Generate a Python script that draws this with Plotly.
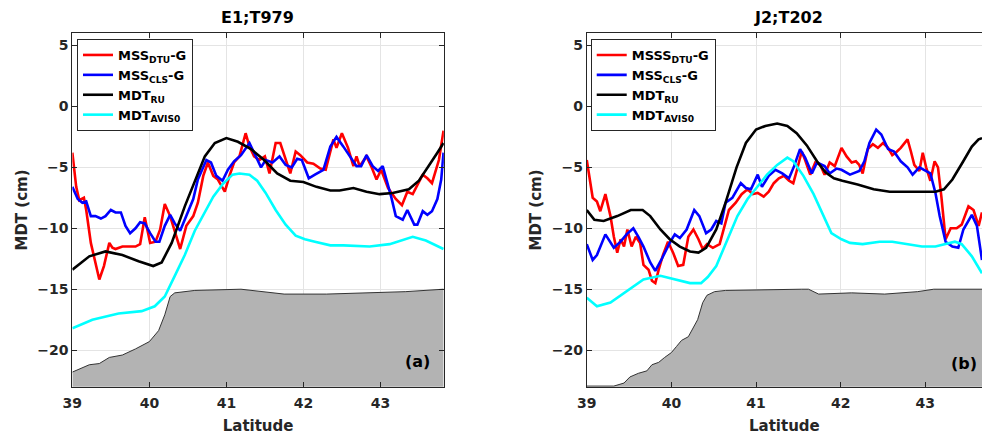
import plotly.graph_objects as go
from plotly.subplots import make_subplots

# ---------------- Panel (a): E1;T979 ----------------
lat_a_dtu = [39.00,39.05,39.09,39.15,39.18,39.24,39.35,39.41,39.48,39.52,39.56,39.65,39.73,39.82,39.88,39.94,40.01,40.08,40.14,40.20,40.27,40.33,40.40,40.48,40.57,40.63,40.70,40.76,40.83,40.89,40.98,41.04,41.10,41.17,41.25,41.30,41.36,41.43,41.50,41.56,41.60,41.64,41.70,41.77,41.83,41.90,41.96,42.05,42.13,42.22,42.29,42.39,42.43,42.50,42.58,42.65,42.69,42.73,42.82,42.88,42.95,43.01,43.10,43.20,43.28,43.35,43.42,43.55,43.61,43.67,43.76,43.82]
mdt_a_dtu = [-3.8,-6.6,-7.7,-7.5,-8.5,-11.2,-14.2,-13.1,-11.2,-11.6,-11.7,-11.5,-11.5,-11.5,-11.3,-9.1,-11.2,-11.1,-10.1,-8.0,-9.0,-10.2,-11.7,-9.8,-9.0,-7.9,-5.7,-4.6,-5.7,-6.0,-7.0,-5.7,-4.6,-4.1,-2.2,-3.3,-4.1,-4.4,-4.1,-5.5,-4.2,-3.0,-3.0,-4.4,-5.5,-3.7,-4.0,-4.6,-4.7,-5.1,-5.2,-2.7,-3.4,-2.2,-3.4,-4.9,-4.1,-4.9,-4.1,-4.9,-6.0,-5.2,-6.7,-7.6,-8.1,-7.0,-7.2,-5.6,-5.9,-6.3,-4.4,-2.0]

lat_a_cls = [39.00,39.07,39.13,39.18,39.24,39.30,39.37,39.43,39.50,39.56,39.63,39.69,39.75,39.82,39.88,39.94,40.01,40.08,40.13,40.20,40.27,40.33,40.40,40.48,40.57,40.63,40.74,40.80,40.87,40.95,41.02,41.10,41.19,41.30,41.36,41.45,41.51,41.60,41.69,41.77,41.85,41.92,41.98,42.07,42.15,42.26,42.35,42.43,42.52,42.60,42.69,42.75,42.82,42.90,42.97,43.03,43.14,43.20,43.29,43.35,43.44,43.48,43.55,43.61,43.67,43.74,43.79,43.82]
mdt_a_cls = [-6.6,-7.6,-7.9,-7.8,-9.0,-9.0,-9.2,-9.0,-8.5,-8.7,-8.7,-9.8,-10.4,-10.0,-9.5,-9.6,-10.4,-11.1,-11.1,-9.8,-8.9,-9.6,-10.2,-9.0,-7.6,-6.0,-4.4,-4.6,-5.7,-6.1,-5.2,-4.5,-4.0,-3.0,-3.8,-5.0,-4.4,-4.6,-4.1,-4.8,-5.0,-4.3,-4.4,-5.9,-5.6,-5.2,-3.3,-2.5,-3.3,-4.1,-4.9,-4.9,-4.0,-4.9,-5.3,-4.9,-7.4,-9.0,-9.3,-8.5,-9.7,-9.7,-8.6,-8.9,-8.6,-7.6,-6.0,-3.8]

lat_a_ru = [39.00,39.22,39.43,39.65,39.86,40.05,40.16,40.29,40.46,40.63,40.72,40.85,41.00,41.15,41.32,41.49,41.66,41.83,42.00,42.17,42.35,42.47,42.65,42.82,42.99,43.16,43.37,43.50,43.63,43.74,43.82]
mdt_a_ru = [-13.4,-12.3,-11.9,-12.2,-12.7,-13.1,-12.8,-11.2,-8.2,-5.5,-4.1,-3.0,-2.6,-2.9,-3.5,-4.4,-5.5,-6.1,-6.2,-6.6,-6.9,-6.9,-6.7,-7.0,-7.2,-7.1,-6.8,-6.1,-4.9,-3.8,-3.0]

lat_a_aviso = [39.00,39.26,39.60,39.90,40.07,40.20,40.33,40.46,40.59,40.70,40.83,40.95,41.08,41.17,41.30,41.40,41.51,41.64,41.77,41.90,42.02,42.15,42.35,42.52,42.86,43.12,43.33,43.42,43.59,43.82]
mdt_a_aviso = [-18.2,-17.5,-17.0,-16.8,-16.4,-15.6,-13.9,-12.2,-10.2,-8.9,-7.4,-6.4,-5.6,-5.5,-5.6,-6.1,-7.1,-8.5,-9.7,-10.6,-10.9,-11.1,-11.4,-11.4,-11.5,-11.3,-10.9,-10.7,-11.0,-11.7]

lat_a_bathy = [39.00,39.22,39.35,39.48,39.65,39.82,40.00,40.12,40.20,40.27,40.33,40.59,41.19,41.75,42.30,42.90,43.33,43.82]
bathy_a = [-21.8,-21.2,-21.1,-20.6,-20.4,-19.9,-19.3,-18.4,-17.1,-15.6,-15.3,-15.1,-15.0,-15.4,-15.4,-15.3,-15.2,-15.0]

# ---------------- Panel (b): J2;T202 ----------------
lat_b_dtu = [39.00,39.04,39.07,39.12,39.16,39.22,39.28,39.32,39.36,39.40,39.44,39.48,39.53,39.58,39.63,39.67,39.73,39.77,39.81,39.85,39.90,39.96,40.02,40.08,40.14,40.20,40.26,40.32,40.37,40.42,40.49,40.57,40.63,40.68,40.76,40.83,40.90,40.96,41.02,41.09,41.15,41.21,41.27,41.33,41.39,41.44,41.48,41.54,41.58,41.64,41.70,41.76,41.81,41.87,41.93,42.01,42.07,42.13,42.18,42.22,42.26,42.32,42.38,42.44,42.50,42.56,42.61,42.65,42.71,42.79,42.83,42.87,42.93,42.97,43.01,43.06,43.11,43.15,43.19,43.24,43.30,43.37,43.43,43.51,43.57,43.63,43.67]
mdt_b_dtu = [-4.4,-6.3,-7.5,-7.8,-8.6,-7.2,-9.0,-10.7,-12.0,-10.9,-11.5,-10.1,-11.5,-10.7,-11.2,-13.0,-13.4,-14.3,-14.5,-13.4,-12.2,-11.1,-12.0,-13.1,-13.0,-10.7,-10.1,-10.9,-11.7,-11.3,-11.6,-11.3,-9.8,-8.5,-7.9,-7.2,-6.8,-7.2,-7.1,-7.4,-7.0,-6.3,-5.9,-5.7,-6.1,-6.3,-5.3,-3.7,-4.4,-5.6,-4.6,-4.8,-5.6,-4.6,-4.9,-3.4,-4.1,-4.6,-4.5,-4.8,-5.5,-3.5,-3.1,-3.4,-3.0,-3.4,-4.0,-3.8,-3.4,-2.7,-3.7,-4.8,-5.3,-3.8,-5.0,-6.1,-4.5,-5.0,-7.4,-10.9,-10.0,-10.0,-9.7,-8.2,-8.5,-9.8,-8.7]

lat_b_cls = [39.00,39.07,39.12,39.22,39.32,39.40,39.47,39.55,39.61,39.67,39.75,39.81,39.88,39.98,40.04,40.10,40.18,40.27,40.33,40.41,40.47,40.53,40.59,40.64,40.72,40.82,40.88,40.94,41.02,41.07,41.15,41.23,41.31,41.39,41.45,41.52,41.58,41.66,41.72,41.81,41.87,41.95,42.01,42.11,42.22,42.28,42.34,42.42,42.48,42.56,42.63,42.71,42.79,42.85,42.93,43.00,43.06,43.12,43.17,43.24,43.32,43.39,43.45,43.55,43.61,43.67]
mdt_b_cls = [-11.3,-12.6,-12.2,-10.5,-11.6,-11.1,-10.5,-10.0,-10.7,-11.5,-12.8,-13.5,-12.6,-11.2,-10.5,-10.8,-10.1,-8.5,-9.0,-10.4,-10.1,-9.4,-9.6,-7.9,-7.5,-6.3,-6.7,-6.8,-5.6,-6.6,-5.7,-5.2,-5.5,-5.9,-4.9,-3.5,-4.2,-5.5,-4.6,-4.9,-5.5,-5.1,-5.2,-5.6,-5.3,-4.5,-3.0,-1.9,-2.3,-3.5,-3.7,-4.5,-5.0,-5.6,-5.0,-5.3,-5.5,-7.1,-9.0,-11.1,-11.5,-11.6,-10.1,-8.9,-9.8,-12.6]

lat_b_ru = [39.00,39.09,39.20,39.36,39.52,39.66,39.75,39.87,39.98,40.10,40.22,40.32,40.41,40.53,40.64,40.77,40.88,41.00,41.11,41.25,41.37,41.48,41.60,41.72,41.82,41.92,42.02,42.20,42.39,42.58,42.80,43.00,43.12,43.22,43.32,43.44,43.55,43.63,43.67]
mdt_b_ru = [-8.5,-9.3,-9.4,-9.0,-8.5,-8.5,-9.0,-10.1,-10.9,-11.5,-11.9,-12.0,-11.6,-10.1,-7.9,-5.0,-3.0,-1.9,-1.6,-1.4,-1.6,-2.2,-3.2,-4.5,-5.4,-5.9,-6.1,-6.4,-6.8,-7.0,-7.0,-7.0,-7.0,-6.8,-6.0,-4.6,-3.3,-2.7,-2.6]

lat_b_aviso = [39.00,39.12,39.28,39.47,39.67,39.87,40.06,40.22,40.35,40.43,40.53,40.68,40.78,40.90,41.02,41.13,41.25,41.37,41.44,41.56,41.68,41.80,41.89,42.01,42.11,42.26,42.46,42.61,42.77,42.96,43.12,43.24,43.35,43.43,43.55,43.67]
mdt_b_aviso = [-15.7,-16.4,-16.1,-15.2,-14.2,-13.9,-14.2,-14.5,-14.5,-14.0,-13.1,-10.7,-9.0,-7.6,-6.6,-5.6,-4.8,-4.2,-4.5,-5.7,-7.2,-9.0,-10.4,-10.9,-11.2,-11.3,-11.1,-11.1,-11.3,-11.5,-11.5,-11.3,-11.1,-11.3,-12.3,-13.7]

lat_b_bathy = [39.00,39.32,39.44,39.51,39.61,39.71,39.77,39.85,39.92,40.00,40.06,40.12,40.20,40.25,40.31,40.37,40.42,40.51,40.64,41.54,41.62,41.74,42.13,42.52,42.91,43.10,43.67]
bathy_b = [-22.95,-22.95,-22.7,-22.2,-21.9,-21.7,-21.2,-21.0,-20.6,-20.2,-19.7,-19.2,-18.9,-18.3,-17.5,-16.1,-15.5,-15.2,-15.1,-15.0,-15.0,-15.4,-15.3,-15.4,-15.2,-15.0,-15.0]

# ---------------- labels / ticks ----------------
titles = ["E1;T979", "J2;T202"]
panel_tags = ["(a)", "(b)"]
names_a = ["MSS<sub>DTU</sub>-G", "MSS<sub>CLS</sub>-G", "MDT<sub>RU</sub>", "MDT<sub>AVIS0</sub>"]
names_b = ["MSSS<sub>DTU</sub>-G", "MSS<sub>CLS</sub>-G", "MDT<sub>RU</sub>", "MDT<sub>AVIS0</sub>"]
x_ticks = [39, 40, 41, 42, 43]
y_ticks = [-20, -15, -10, -5, 0, 5]
Y_RANGE = [-23, 6]
FLOOR = -30

colors = ["#ff0000", "#0000ff", "#000000", "#00ffff"]
AX = "#262626"
GRID = "#e4e4e4"
FONT = "DejaVu Sans"

fig = make_subplots(rows=1, cols=2)

panels = [
    (1, "legend", lat_a_bathy, bathy_a,
     [(lat_a_dtu, mdt_a_dtu), (lat_a_cls, mdt_a_cls), (lat_a_ru, mdt_a_ru), (lat_a_aviso, mdt_a_aviso)], names_a),
    (2, "legend2", lat_b_bathy, bathy_b,
     [(lat_b_dtu, mdt_b_dtu), (lat_b_cls, mdt_b_cls), (lat_b_ru, mdt_b_ru), (lat_b_aviso, mdt_b_aviso)], names_b),
]

for col, leg, blat, bval, series, names in panels:
    fig.add_trace(go.Scatter(x=blat, y=[FLOOR] * len(blat), mode="lines",
                             line=dict(width=0, color="rgba(0,0,0,0)"),
                             showlegend=False, hoverinfo="skip"), row=1, col=col)
    fig.add_trace(go.Scatter(x=blat, y=bval, mode="lines", fill="tonexty",
                             fillcolor="#b3b3b3", line=dict(color="#333333", width=1),
                             showlegend=False, name="bathymetry"), row=1, col=col)
    for i, ((xs, ys), nm, c) in enumerate(zip(series, names, colors)):
        fig.add_trace(go.Scatter(x=xs, y=ys, mode="lines", name=nm,
                                 line=dict(color=c, width=2.6), legend=leg,
                                 legendgroup=f"{leg}_{i}"),
                      row=1, col=col)

axis_common = dict(showline=True, linecolor=AX, linewidth=1, ticks="inside", ticklen=5,
                   tickcolor=AX, showgrid=True, gridcolor=GRID, gridwidth=1, zeroline=False,
                   tickfont=dict(family=FONT, size=14, color=AX, weight="bold"))

fig.update_xaxes(**axis_common, tickvals=x_ticks, mirror="allticks", ticklabelstandoff=3,
                 title=dict(text="Latitude", font=dict(family=FONT, size=15, color=AX, weight="bold"), standoff=12))
fig.update_yaxes(**axis_common, tickvals=y_ticks, range=Y_RANGE,
                 title=dict(text="MDT (cm)", font=dict(family=FONT, size=15, color=AX, weight="bold"), standoff=6))

fig.update_layout(
    xaxis=dict(domain=[63 / 982, 438.3 / 982], range=[39, 43.824]),
    yaxis=dict(domain=[1 - 386.7 / 435, 1 - 33.3 / 435], mirror="allticks"),
    xaxis2=dict(domain=[582.7 / 982, 1.0], range=[39, 43.67]),
    yaxis2=dict(domain=[1 - 386.7 / 435, 1 - 33.3 / 435], mirror=False),
)

legend_style = dict(xanchor="left", yanchor="top", bordercolor=AX, borderwidth=1,
                    bgcolor="white", itemwidth=30, tracegroupgap=6, traceorder="normal",
                    font=dict(family=FONT, size=13, color="#000000", weight="bold"))
fig.update_layout(
    width=982, height=435,
    margin=dict(l=0, r=0, t=0, b=0),
    paper_bgcolor="white", plot_bgcolor="white",
    font=dict(family=FONT, color=AX, weight="bold"),
    legend=dict(x=67.7 / 982, y=1 - 39 / 435, **legend_style),
    legend2=dict(x=586.7 / 982, y=1 - 39 / 435, **legend_style),
)

for tx, px in zip(titles, [250.5, 786.7]):
    fig.add_annotation(text=tx, xref="paper", yref="paper", x=px / 982, y=1 - 18 / 435,
                       xanchor="center", yanchor="middle", showarrow=False,
                       font=dict(family=FONT, size=16, color="#000000", weight="bold"))
for tg, px, py in zip(panel_tags, [411.7, 964], [361, 363]):
    fig.add_annotation(text=tg, xref="paper", yref="paper", x=px / 982, y=1 - py / 435,
                       xanchor="center", yanchor="middle", showarrow=False,
                       font=dict(family=FONT, size=16, color="#000000", weight="bold"))

fig.write_html("out.html", config={"displayModeBar": False},
               post_script="document.body.style.margin='0';")
